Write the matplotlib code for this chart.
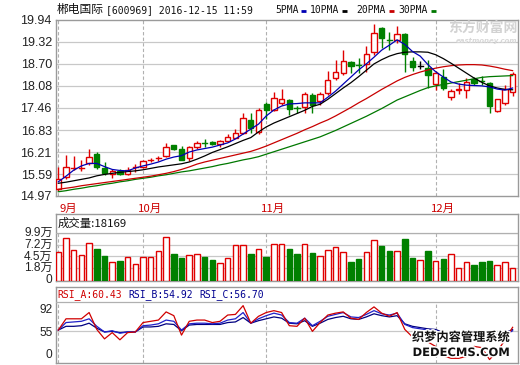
import matplotlib
matplotlib.use('Agg')
import matplotlib.pyplot as plt
from matplotlib.patches import Rectangle
from matplotlib.lines import Line2D
import matplotlib.patheffects as pe
import numpy as np

# ---------------- data ----------------
stock_title = "郴电国际"
stock_info = "[600969] 2016-12-15 11:59"
month_labels = ["9月", "10月", "11月", "12月"]
month_starts = [0, 11, 27, 49]
price_ticks = [19.94, 19.32, 18.70, 18.08, 17.46, 16.83, 16.21, 15.59, 14.97]
vol_tick_values = [9.9, 7.2, 4.5, 1.8]
vol_tick_labels = ["9.9万", "7.2万", "4.5万", "1.8万", "0"]
rsi_tick_values = [92, 55]
rsi_tick_labels = ["92", "55", "0"]
last_volume = "18169"
rsi_last = {"RSI_A": "60.43", "RSI_B": "54.92", "RSI_C": "56.70"}

opens = [15.16, 15.50, 15.74, 15.74, 15.89, 16.16, 15.75, 15.59, 15.69, 15.59,
         15.78, 15.80, 15.98, 16.03, 16.10, 16.40, 16.29, 16.03, 16.34, 16.49,
         16.50, 16.45, 16.53, 16.62, 16.74, 17.12, 16.79, 17.56, 17.40, 17.60,
         17.68, 17.47, 17.48, 17.82, 17.65, 17.87, 18.29, 18.43, 18.76, 18.69,
         18.69, 19.03, 19.72, 19.40, 19.38, 19.54, 18.78, 18.65, 18.58, 18.13,
         18.32, 17.77, 17.96, 17.96, 18.26, 18.24, 18.15, 17.38, 17.60, 17.91]
highs = [15.80, 16.13, 16.10, 16.00, 16.29, 16.20, 15.92, 15.72, 15.72, 15.78,
         15.86, 16.00, 16.04, 16.10, 16.47, 16.42, 16.38, 16.37, 16.52, 16.58,
         16.52, 16.56, 16.72, 16.86, 17.30, 17.30, 17.46, 17.62, 17.92, 17.98,
         17.72, 17.52, 17.92, 17.88, 17.90, 18.50, 18.81, 19.09, 18.78, 18.88,
         19.21, 19.82, 19.74, 19.60, 19.78, 19.56, 18.90, 18.78, 18.80, 18.50,
         18.55, 17.98, 18.15, 18.30, 18.33, 18.37, 18.20, 17.72, 18.10, 18.47]
lows = [15.12, 15.45, 15.70, 15.68, 15.85, 15.73, 15.55, 15.48, 15.55, 15.56,
        15.66, 15.76, 15.92, 15.97, 16.06, 16.26, 15.98, 15.97, 16.30, 16.36,
        16.40, 16.35, 16.50, 16.60, 16.72, 16.75, 16.72, 17.15, 17.38, 17.55,
        17.25, 17.30, 17.30, 17.30, 17.55, 17.82, 18.25, 18.40, 18.44, 18.44,
        18.48, 18.95, 19.14, 19.10, 19.28, 18.48, 18.50, 18.55, 18.01, 17.95,
        17.97, 17.68, 17.85, 17.75, 18.10, 18.10, 17.30, 17.35, 17.55, 17.80]
closes = [15.44, 15.80, 15.76, 15.76, 16.06, 15.80, 15.63, 15.68, 15.59, 15.70,
          15.80, 15.97, 16.00, 16.05, 16.34, 16.29, 16.00, 16.34, 16.47, 16.47,
          16.43, 16.52, 16.64, 16.74, 17.16, 16.88, 17.40, 17.40, 17.73, 17.70,
          17.42, 17.45, 17.85, 17.54, 17.84, 18.25, 18.48, 18.78, 18.65, 18.67,
          18.97, 19.56, 19.44, 19.38, 19.54, 18.97, 18.62, 18.65, 18.39, 18.45,
          18.01, 17.94, 17.99, 18.20, 18.15, 18.23, 17.51, 17.70, 17.98, 18.41]

ma5 = [15.37, 15.53, 15.70, 15.82, 15.89, 15.89, 15.80, 15.72, 15.69, 15.68,
       15.76, 15.82, 15.87, 15.93, 16.01, 16.07, 16.11, 16.21, 16.27, 16.31,
       16.35, 16.41, 16.47, 16.58, 16.72, 16.86, 17.00, 17.23, 17.40, 17.51,
       17.57, 17.58, 17.60, 17.60, 17.60, 17.76, 17.93, 18.13, 18.33, 18.53,
       18.70, 18.89, 19.09, 19.23, 19.38, 19.25, 19.05, 18.92, 18.68, 18.48,
       18.33, 18.19, 18.13, 18.10, 18.09, 18.08, 18.05, 17.99, 17.96, 18.02]
ma10 = [15.33, 15.36, 15.40, 15.44, 15.48, 15.54, 15.58, 15.61, 15.64, 15.66,
        15.68, 15.71, 15.75, 15.79, 15.82, 15.85, 15.88, 15.93, 16.01, 16.10,
        16.20, 16.28, 16.36, 16.45, 16.54, 16.62, 16.78, 16.92, 17.03, 17.12,
        17.21, 17.30, 17.39, 17.50, 17.56, 17.70, 17.86, 18.02, 18.17, 18.34,
        18.52, 18.70, 18.82, 18.92, 18.99, 19.03, 19.04, 19.04, 19.03, 18.96,
        18.85, 18.72, 18.58, 18.44, 18.30, 18.18, 18.08, 18.02, 17.98, 17.97]
ma20 = [15.16, 15.19, 15.22, 15.26, 15.29, 15.32, 15.35, 15.38, 15.41, 15.44,
        15.47, 15.50, 15.53, 15.57, 15.61, 15.66, 15.72, 15.79, 15.87, 15.93,
        15.98, 16.03, 16.08, 16.13, 16.18, 16.23, 16.30, 16.38, 16.47, 16.56,
        16.65, 16.74, 16.84, 16.93, 17.03, 17.12, 17.23, 17.35, 17.47, 17.60,
        17.72, 17.85, 17.98, 18.10, 18.22, 18.32, 18.40, 18.47, 18.53, 18.58,
        18.62, 18.65, 18.67, 18.68, 18.68, 18.67, 18.64, 18.60, 18.55, 18.51]
ma30 = [15.09, 15.12, 15.16, 15.19, 15.23, 15.26, 15.30, 15.33, 15.37, 15.40,
        15.44, 15.47, 15.50, 15.54, 15.57, 15.61, 15.65, 15.68, 15.72, 15.76,
        15.80, 15.85, 15.89, 15.94, 15.99, 16.03, 16.08, 16.15, 16.22, 16.29,
        16.36, 16.43, 16.50, 16.57, 16.64, 16.73, 16.82, 16.92, 17.02, 17.12,
        17.22, 17.33, 17.44, 17.56, 17.68, 17.77, 17.86, 17.95, 18.03, 18.08,
        18.12, 18.16, 18.20, 18.24, 18.28, 18.32, 18.34, 18.35, 18.36, 18.37]

volumes = [5.45, 8.69, 5.99, 4.83, 7.69, 6.22, 4.59, 3.12, 3.43, 4.36,
           2.74, 4.36, 4.36, 5.75, 8.93, 5.06, 4.21, 4.83, 4.98, 4.36,
           3.67, 2.89, 4.13, 7.15, 7.15, 5.06, 6.22, 4.36, 7.30, 7.30,
           6.22, 5.06, 7.30, 5.29, 4.52, 5.91, 6.61, 5.45, 3.20, 3.97,
           5.45, 8.23, 6.99, 5.75, 5.75, 8.54, 4.21, 3.67, 5.75, 3.43,
           3.97, 4.98, 1.73, 3.12, 2.51, 3.12, 3.43, 2.51, 3.12, 1.82]

rsi_a = [56, 74, 74, 74, 84, 57, 42, 52, 40.5, 52,
         53, 68, 70, 72, 85, 79, 48, 70, 72, 72,
         68, 70, 80, 81, 95, 67, 78, 84, 87, 84,
         63, 62, 75, 54, 68, 80, 83, 85, 75, 73,
         84, 93, 83, 78, 84, 57, 45, 40, 37, 30,
         15, 11, 11, 14, 30, 28, 9, 22, 40, 60.43]
rsi_b = [56, 68, 69, 70, 74, 62, 53, 55, 51, 53,
         53, 63, 64, 66, 72, 70, 56, 66, 67, 67,
         66, 67, 72, 74, 84, 67, 74, 79, 83, 80,
         68, 67, 75, 63, 70, 78, 81, 84, 77, 76,
         81, 87, 82, 80, 83, 65, 60, 58, 56, 55,
         46, 42, 42, 44, 48, 47, 38, 43, 48, 54.92]
rsi_c = [56, 62, 62, 63, 67, 59, 53, 54, 52, 53,
         53, 61, 61, 62, 66, 65, 55, 64, 65, 65,
         65, 65, 68, 69, 76, 67, 71, 74, 77, 75,
         67, 66, 71, 62, 67, 73, 76, 78, 74, 73,
         77, 82, 79, 77, 79, 66, 62, 60, 58, 57,
         52, 49, 49, 50, 52, 52, 46, 49, 52, 56.70]

# ---------------- styling ----------------
W, H = 520, 365
UP = '#e00000'
DOWN = '#008000'
GRID = '#c8c8c8'
BORDER = '#9a9a9a'
MA_COLORS = ['#0000b4', '#000000', '#c80000', '#007800']
MONO = ['DejaVu Sans Mono', 'Noto Sans CJK SC']
CJK = ['Noto Sans CJK SC', 'DejaVu Sans']
NUM = ['Liberation Sans', 'Noto Sans CJK SC']


def fx(px):
    return px / W


def fy(py):
    return 1 - py / H


fig = plt.figure(figsize=(W / 100, H / 100), dpi=100)
fig.patch.set_facecolor('white')

n = len(closes)
xs = np.arange(n)
XLIM = (-0.3, n - 0.3)

ax1 = fig.add_axes([fx(56), fy(196), (518 - 56) / W, (196 - 20) / H])
ax2 = fig.add_axes([fx(56), fy(281), (518 - 56) / W, (281 - 214) / H])
ax3 = fig.add_axes([fx(56), fy(363), (518 - 56) / W, (363 - 287) / H])

for ax in (ax1, ax2, ax3):
    ax.set_xlim(*XLIM)
    ax.set_xticks([])
    ax.tick_params(length=0)
    for s in ax.spines.values():
        s.set_color(BORDER)
        s.set_linewidth(1.0)
    for m in month_starts:
        ax.axvline(m, color='#b0b0b0', lw=0.8, ls=(0, (3, 2)), zorder=1)

# ---------------- main price panel ----------------
ax1.set_ylim(price_ticks[-1], price_ticks[0])
ax1.set_yticks(price_ticks)
ax1.set_yticklabels([f"{t:.2f}" for t in price_ticks], family=NUM, fontsize=9,
                    color='#222222')
ax1.tick_params(axis='y', pad=3)
for t in price_ticks[1:-1]:
    ax1.axhline(t, color=GRID, lw=0.9, zorder=1)

bw = 0.68
for i in range(n):
    o, h, l, c = opens[i], highs[i], lows[i], closes[i]
    if abs(c - o) < 1e-9:
        col = '#000000'
    elif c > o:
        col = UP
    else:
        col = DOWN
    bot, top = min(o, c), max(o, c)
    ax1.plot([i, i], [top, h], color=col, lw=1.0, zorder=3, solid_capstyle='butt')
    ax1.plot([i, i], [l, bot], color=col, lw=1.0, zorder=3, solid_capstyle='butt')
    if top - bot < 0.025:
        ax1.plot([i - bw / 2, i + bw / 2], [c, c], color=col, lw=1.0, zorder=4)
        ax1.plot([i, i], [bot, top], color=col, lw=1.0, zorder=4)
    else:
        fc = 'white' if c > o else col
        ax1.add_patch(Rectangle((i - bw / 2, bot), bw, top - bot, facecolor=fc,
                                edgecolor=col, lw=1.0, zorder=4))

for series, colr in zip([ma30, ma20, ma10, ma5], MA_COLORS[::-1]):
    ax1.plot(xs, series, color=colr, lw=0.9, zorder=5)

# month labels
for k, (m, lbl) in enumerate(zip(month_starts, month_labels)):
    off = 1 if k == 0 else -3.5
    ax1.annotate(lbl, xy=(m, 0), xycoords=('data', 'axes fraction'),
                 xytext=(off, -9), textcoords='offset points', ha='left',
                 va='center', color='#cc0000', family=CJK, fontsize=8.2)

# ---------------- volume panel ----------------
v_per_px = 1 / 4.31
vmin = -(281 - 275.8) * v_per_px
vmax = (275.8 - 214) * v_per_px
ax2.set_ylim(vmin, vmax)
ax2.set_yticks([])
for t in vol_tick_values:
    ax2.axhline(t, color=GRID, lw=0.9, zorder=1)
for i in range(n):
    up = closes[i] >= opens[i]
    if up:
        ax2.add_patch(Rectangle((i - 0.36, vmin), 0.72, volumes[i] - vmin,
                                facecolor='white', edgecolor=UP, lw=1.0, zorder=3))
    else:
        ax2.add_patch(Rectangle((i - 0.36, vmin), 0.72, volumes[i] - vmin,
                                facecolor=DOWN, edgecolor=DOWN, lw=1.0, zorder=3))
ax2.add_patch(Rectangle((XLIM[0], 9.9), XLIM[1] - XLIM[0], vmax - 9.9,
                        facecolor='white', edgecolor='none', zorder=2))
ax2.axhline(9.9, color='#b0b0b0', lw=0.9, zorder=4)
fig.text(fx(58), fy(223), "成交量:" + last_volume, family=CJK, fontsize=8.2,
         color='#111111', va='center', ha='left', zorder=10)
vol_label_y = [233.3, 245.0, 256.7, 268.0, 279.7]
for lbl, py in zip(vol_tick_labels, vol_label_y):
    fig.text(fx(52.5), fy(py), lbl, ha='right', va='center', family=NUM,
             fontsize=8.6, color='#222222')

# ---------------- RSI panel ----------------
r_per_px = 1 / 0.627
rmin = (365.2 - 363) * r_per_px
rmax = (365.2 - 287) * r_per_px
rsep = (365.2 - 301.7) * r_per_px
ax3.set_ylim(rmin, rmax)
ax3.set_yticks([])
ax3.axhline(55, color=GRID, lw=0.9, zorder=1)
ax3.add_patch(Rectangle((XLIM[0], rsep), XLIM[1] - XLIM[0], rmax - rsep,
                        facecolor='white', edgecolor='none', zorder=2))
ax3.axhline(rsep, color='#b0b0b0', lw=0.9, zorder=4)
ax3.plot(xs, rsi_c, color='#000080', lw=0.9, zorder=5)
ax3.plot(xs, rsi_b, color='#2020c8', lw=0.9, zorder=5)
ax3.plot(xs, rsi_a, color='#d00000', lw=0.9, zorder=6)
rsi_label_y = [310.0, 333.3, 355.0]
for lbl, py in zip(rsi_tick_labels, rsi_label_y):
    fig.text(fx(52.5), fy(py), lbl, ha='right', va='center', family=NUM,
             fontsize=8.6, color='#222222')
rsi_cols = ['#d00000', '#000090', '#000090']
for k, (key, colr) in enumerate(zip(["RSI_A", "RSI_B", "RSI_C"], rsi_cols)):
    fig.text(fx(57 + k * 71.3), fy(294.5), f"{key}:{rsi_last[key]}", family=MONO,
             fontsize=7.0, color=colr, ha='left', va='center', zorder=10)

# ---------------- header ----------------
fig.text(fx(57), fy(10), stock_title, family=CJK, fontsize=8.5, color='#111111',
         ha='left', va='center')
fig.text(fx(105.5), fy(10), stock_info, family=MONO, fontsize=7.05,
         color='#111111', ha='left', va='center')
legend_names = ["5PMA", "10PMA", "20PMA", "30PMA"]
legend_x = [275, 310, 356.5, 398.3]
for name, px, colr in zip(legend_names, legend_x, MA_COLORS):
    fig.text(fx(px), fy(10), name, family=MONO, fontsize=7.05, color='#111111',
             ha='left', va='center')
    x0 = px + len(name) * 5.87 + 3
    fig.add_artist(Line2D([fx(x0), fx(x0 + 5)], [fy(11), fy(11)], color=colr,
                          lw=2.0, solid_capstyle='butt'))

# ---------------- watermarks ----------------
fig.text(fx(518), fy(28), "东方财富网", family=CJK, fontsize=10, weight='bold',
         color='#d2d2d2', ha='right', va='center', zorder=0)
fig.text(fx(517), fy(41), "eastmoney.com", family=['DejaVu Sans'], fontsize=5,
         weight='bold', style='italic', color='#d8d8d8', ha='right', va='center')
stroke = [pe.withStroke(linewidth=2.2, foreground='white')]
fig.text(fx(461), fy(337.5), "织梦内容管理系统", family=CJK, fontsize=8.8,
         weight='bold', color='#111111', ha='center', va='center',
         path_effects=stroke, zorder=20)
fig.text(fx(461), fy(352.5), "DEDECMS.COM", family=['DejaVu Sans'], fontsize=8.3,
         weight='bold', color='#111111', ha='center', va='center',
         path_effects=stroke, zorder=20)

fig.savefig('out.png', dpi=100, facecolor='white')
